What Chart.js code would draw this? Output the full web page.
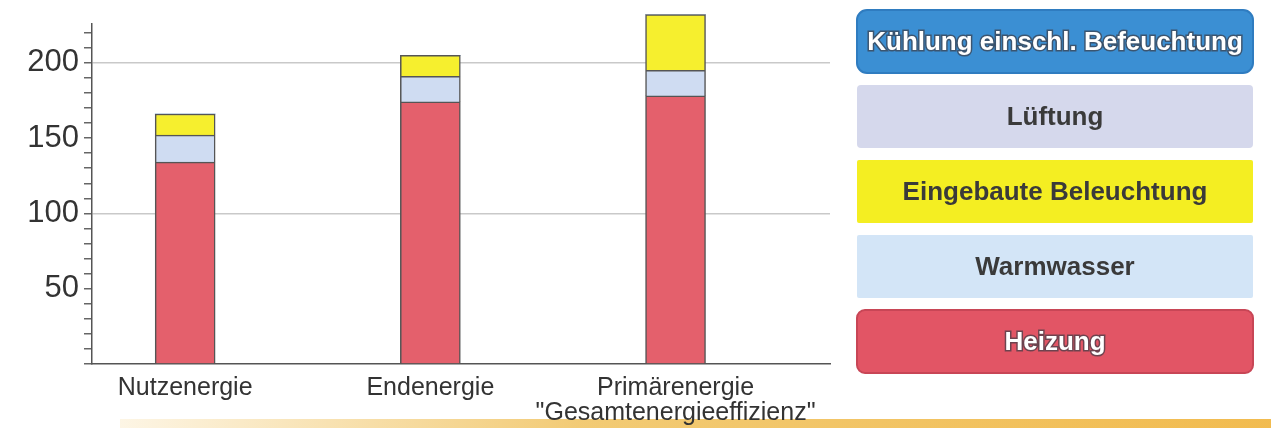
<!DOCTYPE html>
<html>
<head>
<meta charset="utf-8">
<script src="https://cdn.jsdelivr.net/npm/chart.js@4.4.1/dist/chart.umd.min.js"></script>
<style>
  html, body { margin: 0; padding: 0; background: #fff; }
  #wrap { position: relative; width: 1271px; height: 428px; overflow: hidden; }
  #band { position: absolute; left: 120px; top: 419px; width: 1151px; height: 9px;
          background: linear-gradient(to right, rgba(240,190,80,0.15), rgba(238,185,70,0.75) 40%, rgba(240,180,60,0.9)); }
  #energie { position: absolute; left: 0; top: 0; }
</style>
</head>
<body>
<div id="wrap">
  <div id="band"></div>
  <canvas id="energie" width="1271" height="428"></canvas>
</div>
<script>
// Kategorien (x-Achse)
const kategorien = ['Nutzenergie', 'Endenergie', ['Primärenergie', '"Gesamtenergieeffizienz"']];

// Werte je Kategorie
const heizung     = [134, 174, 178];
const warmwasser  = [18, 17, 17];
const beleuchtung = [14, 14, 37];
const lueftung    = [0, 0, 0];
const kuehlung    = [0, 0, 0];

// Beschriftung der y-Achse
const yLabels = [50, 100, 150, 200];

function punkte(werte) {
    return werte.map((v, i) => ({ x: i, y: v }));
}

// Legende rechts als farbige Kästen
const kastenLegende = {
    id: 'kastenLegende',
    afterDraw(chart) {
        const ctx = chart.ctx;
        const ds = chart.data.datasets.slice().reverse();
        ds.forEach((d, i) => {
            const x = 857, y = 10 + i * 75, w = 396, h = 63;
            ctx.save();
            ctx.beginPath();
            ctx.roundRect(x, y, w, h, d.legendRadius);
            ctx.fillStyle = d.legendColor;
            ctx.fill();
            if (d.legendBorder) {
                ctx.lineWidth = 2;
                ctx.strokeStyle = d.legendBorder;
                ctx.stroke();
            }
            ctx.font = 'bold 26px "Liberation Sans", Arial, sans-serif';
            ctx.textAlign = 'center';
            ctx.textBaseline = 'middle';
            if (d.legendText === 'white') {
                ctx.lineWidth = 3;
                ctx.strokeStyle = 'rgba(60,60,70,0.7)';
                ctx.strokeText(d.label, x + w / 2, y + h / 2 + 1);
                ctx.fillStyle = '#ffffff';
            } else {
                ctx.fillStyle = '#3a3a3a';
            }
            ctx.fillText(d.label, x + w / 2, y + h / 2 + 1);
            ctx.restore();
        });
    }
};

const ctxEnergie = document.getElementById('energie').getContext('2d');
new Chart(ctxEnergie, {
    type: 'bar',
    data: {
        datasets: [
            { label: 'Heizung', data: punkte(heizung), backgroundColor: '#e4606c', borderColor: '#555', borderWidth: 1.5,
              legendColor: '#e25565', legendBorder: '#c84656', legendRadius: 8, legendText: 'white' },
            { label: 'Warmwasser', data: punkte(warmwasser), backgroundColor: '#cfdcf2', borderColor: '#555', borderWidth: 1.5,
              legendColor: '#d3e5f7', legendRadius: 2, legendText: 'dark' },
            { label: 'Eingebaute Beleuchtung', data: punkte(beleuchtung), backgroundColor: '#f6ef2e', borderColor: '#555', borderWidth: 1.5,
              legendColor: '#f4ee22', legendRadius: 2, legendText: 'dark' },
            { label: 'Lüftung', data: punkte(lueftung), backgroundColor: '#d5d8ec', borderWidth: 0,
              legendColor: '#d5d8ec', legendRadius: 4, legendText: 'dark' },
            { label: 'Kühlung einschl. Befeuchtung', data: punkte(kuehlung), backgroundColor: '#3b8fd3', borderWidth: 0,
              legendColor: '#3b8fd3', legendBorder: '#2f7cc0', legendRadius: 10, legendText: 'white' }
        ]
    },
    options: {
        responsive: false,
        animation: false,
        barThickness: 60,
        layout: { padding: { top: 22, right: 441, left: 0, bottom: 0 } },
        plugins: {
            legend: { display: false },
            tooltip: { enabled: false }
        },
        datasets: { bar: { clip: false } },
        scales: {
            x: {
                type: 'linear',
                stacked: true,
                offset: false,
                min: -0.38,
                max: 2.63,
                grid: { display: false, offset: false },
                border: { display: true, color: '#555', width: 1.5 },
                afterFit: (scale) => { scale.height = 64; },
                ticks: {
                    stepSize: 1,
                    includeBounds: false,
                    autoSkip: false,
                    maxRotation: 0,
                    padding: 4,
                    color: '#333',
                    font: { family: '"Liberation Sans", Arial, sans-serif', size: 25, lineHeight: 1.0 },
                    callback: (v) => Number.isInteger(v) && kategorien[v] !== undefined ? kategorien[v] : ''
                }
            },
            y: {
                stacked: true,
                min: 0,
                max: 226,
                afterFit: (scale) => { scale.width = 92; },
                border: { display: true, color: '#555', width: 1.5 },
                grid: {
                    color: (c) => c.tick && (c.tick.value === 100 || c.tick.value === 200) ? '#c9c9c9' : 'rgba(0,0,0,0)',
                    lineWidth: 1.5,
                    tickColor: '#666',
                    tickLength: 8
                },
                ticks: {
                    stepSize: 10,
                    maxTicksLimit: 40,
                    includeBounds: false,
                    autoSkip: false,
                    padding: 5,
                    color: '#333',
                    font: { family: '"Liberation Sans", Arial, sans-serif', size: 31 },
                    callback: (v) => yLabels.includes(v) ? v : ''
                }
            }
        }
    },
    plugins: [kastenLegende]
});
</script>
</body>
</html>
